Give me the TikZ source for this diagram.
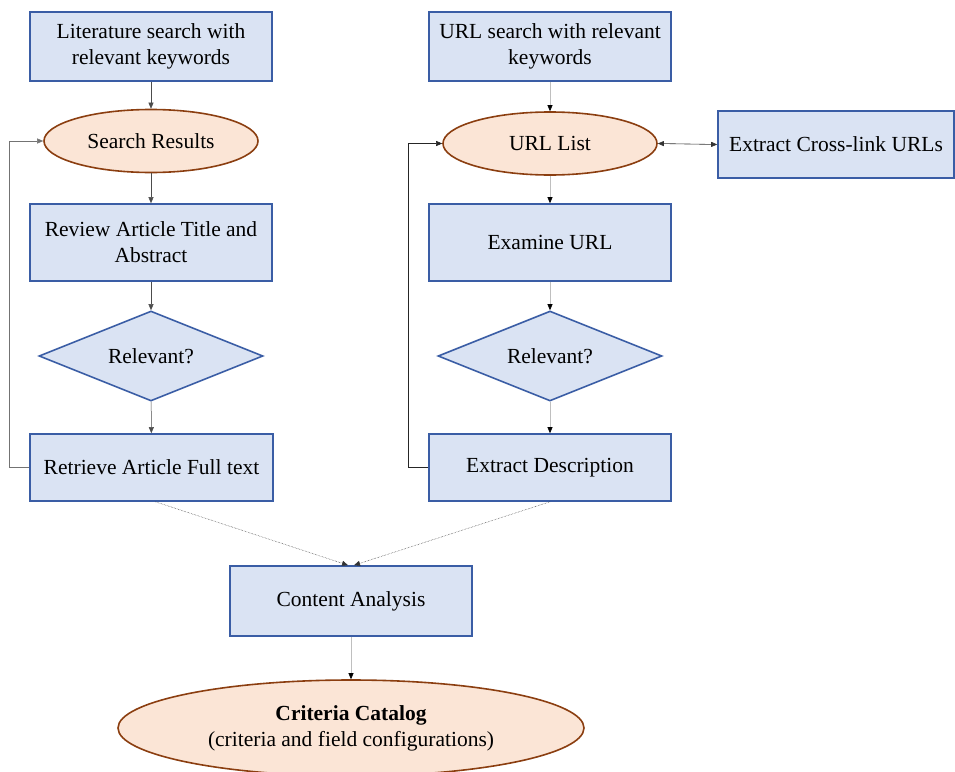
\documentclass[tikz,border=0pt]{standalone}
\usepackage{fontspec}
\setmainfont{Liberation Serif}
\usetikzlibrary{shapes.geometric,arrows.meta}
\definecolor{boxfill}{HTML}{DAE3F3}
\definecolor{boxdraw}{HTML}{3A5DA5}
\definecolor{ellfill}{HTML}{FBE5D6}
\definecolor{elldraw}{HTML}{8B3E10}
\begin{document}
\begin{tikzpicture}[x=1pt,y=-1pt,
  every node/.style={font=\fontsize{21.5}{26}\selectfont, align=center, inner sep=0pt},
  procbox/.style={draw=boxdraw, fill=boxfill, line width=1.6pt, rectangle},
  ovalbox/.style={draw=elldraw, fill=ellfill, line width=1.6pt, ellipse},
  decbox/.style={draw=boxdraw, fill=boxfill, line width=1.6pt, diamond, aspect=2.5},
  conn/.style={draw=black!70, line width=0.5pt, -{Triangle[length=6pt,width=5pt]}},
  connlight/.style={draw=black!25, line width=0.6pt, -{Triangle[length=6pt,width=5pt,color=black]}},
  connb/.style={draw=black!80, line width=0.6pt, {Triangle[length=6pt,width=5pt]}-{Triangle[length=6pt,width=5pt]}}
]
\useasboundingbox (0,0) rectangle (955,771);
% left column
\node[procbox, minimum width=242pt, minimum height=69pt] (lit) at (151,46.5) {Literature search with\\relevant keywords};
\node[ovalbox, minimum width=214pt, minimum height=63pt] (sr) at (151,141) {Search Results};
\node[procbox, minimum width=242pt, minimum height=77pt] (rev) at (151,242.5) {Review Article Title and\\Abstract};
\node[decbox, minimum width=224pt, minimum height=90pt] (rel1) at (151,356) {Relevant?};
\node[procbox, minimum width=243pt, minimum height=67pt] (ret) at (151.5,467.5) {Retrieve Article Full text};
% right column
\node[procbox, minimum width=242pt, minimum height=69pt] (url) at (550,46.5) {URL search with relevant\\keywords};
\node[ovalbox, minimum width=214pt, minimum height=63pt] (ul) at (550,143.5) {URL List};
\node[procbox, minimum width=236pt, minimum height=67pt] (xc) at (836,144.5) {Extract Cross-link URLs};
\node[procbox, minimum width=242pt, minimum height=77pt] (ex) at (550,242.5) {Examine URL};
\node[decbox, minimum width=224pt, minimum height=90pt] (rel2) at (550,356) {Relevant?};
\node[procbox, minimum width=242pt, minimum height=67pt] (ed) at (550,467.5) {Extract Description};
% bottom
\node[procbox, minimum width=242pt, minimum height=70pt] (ca) at (351,601) {Content Analysis};
\node[ovalbox, minimum width=466pt, minimum height=96pt] (cc) at (351,728) {\textbf{Criteria Catalog}\\(criteria and field configurations)};
% connectors left
\draw[conn] (lit) -- (sr);
\draw[conn] (sr) -- (rev);
\draw[conn] (rev) -- (rel1);
\draw[conn] (rel1) -- (ret);
\draw[conn, draw=black!55] (ret.west) -- ++(-20,0) |- (sr.west);
% connectors right
\draw[connlight] (url) -- (ul);
\draw[connlight] (ul) -- (ex);
\draw[connlight] (ex) -- (rel2);
\draw[connlight] (rel2) -- (ed);
\draw[conn, draw=black!85] (ed.west) -- ++(-20,0) |- (ul.west);
\draw[connb] (ul.east) -- (xc.west);
% to content analysis
\coordinate (retb) at ([xshift=4pt]ret.south);
\coordinate (cal) at ([xshift=-3pt]ca.north);
\coordinate (car) at ([xshift=3pt]ca.north);
\draw[conn, densely dotted, draw=black!80] (retb) -- (cal);
\draw[conn, densely dotted, draw=black!80] (ed.south) -- (car);
\draw[connlight] (ca) -- (cc);
\end{tikzpicture}
\end{document}
